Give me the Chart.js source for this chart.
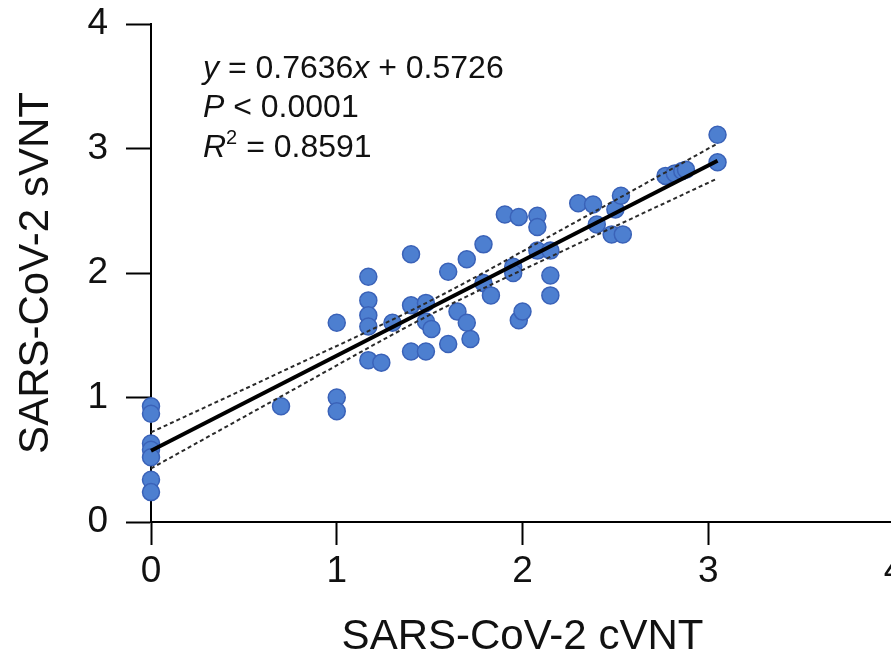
<!DOCTYPE html>
<html>
<head>
<meta charset="utf-8">
<script src="https://cdn.jsdelivr.net/npm/chart.js@4.4.0/dist/chart.umd.min.js"></script>
<style>
html,body{margin:0;padding:0;overflow:hidden;background:#fff;width:891px;height:663px;}
#wrap{position:relative;width:920px;height:663px;}
</style>
</head>
<body>
<div id="wrap"><canvas id="c"></canvas></div>
<script>
// ---- data ----
const cvnt = [0,0,0,0,0,0,0,
  0.70,
  1.00,1.00,1.00,
  1.17,1.17,1.17,1.17,1.17,
  1.24,1.30,
  1.40,1.40,1.40,
  1.48,1.48,1.48,1.51,
  1.60,1.60,1.65,1.70,1.70,1.72,
  1.79,1.79,1.83,1.905,
  1.95,1.95,1.98,1.98,2.00,
  2.08,2.08,2.08,
  2.15,2.15,2.15,
  2.30,2.38,2.40,2.48,2.50,2.53,2.54,
  2.77,2.82,2.86,2.88,
  3.05,3.05];
const svnt = [0.93,0.87,0.63,0.58,0.52,0.34,0.24,
  0.93,
  1.00,0.89,1.60,
  1.97,1.78,1.66,1.57,1.30,
  1.28,1.60,
  2.15,1.74,1.37,
  1.76,1.61,1.37,1.55,
  2.01,1.43,1.69,1.60,2.11,1.47,
  2.23,1.92,1.82,2.47,
  2.05,2.00,2.45,1.62,1.69,
  2.46,2.37,2.18,
  2.18,1.98,1.82,
  2.56,2.55,2.39,2.31,2.51,2.62,2.31,
  2.78,2.80,2.82,2.83,
  3.11,2.89];
const fitX = [0, 3.05];
const fitY = [0.5726, 2.901];
const bandX = [0, 0.75, 1.5, 2.25, 3.05];
const bandUpper = [0.72, 1.24, 1.773, 2.38, 3.04];
const bandLower = [0.43, 1.05, 1.663, 2.20, 2.76];
const xTicks = [0, 1, 2, 3, 4];
const yTicks = [0, 1, 2, 3, 4];
const xTitle = 'SARS-CoV-2 cVNT';
const yTitle = 'SARS-CoV-2 sVNT';
const slopeText = '0.7636';
const interceptText = '0.5726';
const pText = '0.0001';
const r2Text = '0.8591';

const FONT = "'Liberation Sans', Arial, Helvetica, sans-serif";
const toXY = (xs, ys) => xs.map((x, i) => ({x: x, y: ys[i]}));

const annot = {
  id: 'annot',
  afterDatasetsDraw(chart) {
    const ctx = chart.ctx;
    const xs = chart.scales.x, ys = chart.scales.y;
    const x0 = xs.getPixelForValue(0.28);
    const y1 = ys.getPixelForValue(3.57);
    const lh = 39.5;
    const fs = 32;
    const nf = fs + 'px ' + FONT;
    const itf = 'italic ' + fs + 'px ' + FONT;
    ctx.save();
    ctx.fillStyle = '#111';
    ctx.textBaseline = 'alphabetic';
    ctx.textAlign = 'left';
    function run(parts, y) {
      let x = x0;
      parts.forEach(p => {
        ctx.font = p[1];
        const dy = p[2] || 0;
        ctx.fillText(p[0], x, y + dy);
        x += ctx.measureText(p[0]).width;
      });
    }
    run([['y', itf], [' = ' + slopeText, nf], ['x', itf], [' + ' + interceptText, nf]], y1);
    run([['P', itf], [' < ' + pText, nf]], y1 + lh);
    run([['R', itf], ['2', (fs*0.62).toFixed(0) + 'px ' + FONT, -13], [' = ' + r2Text, nf]], y1 + 2*lh);
    ctx.restore();
  }
};

new Chart(document.getElementById('c'), {
  data: {
    datasets: [
      {type: 'line', data: toXY(fitX, fitY), borderColor: '#000', borderWidth: 4,
        pointRadius: 0, fill: false, order: 0, clip: false},
      {type: 'line', data: toXY(bandX, bandUpper), borderColor: '#2a2a2a', borderWidth: 2,
        borderDash: [4, 3], pointRadius: 0, fill: false, cubicInterpolationMode: 'monotone', order: 0},
      {type: 'line', data: toXY(bandX, bandLower), borderColor: '#2a2a2a', borderWidth: 2,
        borderDash: [4, 3], pointRadius: 0, fill: false, cubicInterpolationMode: 'monotone', order: 0},
      {type: 'scatter', data: toXY(cvnt, svnt), backgroundColor: '#4d7fd0',
        borderColor: '#3a62b8', borderWidth: 1.5, pointRadius: 8.5, order: 1, clip: false}
    ]
  },
  options: {
    responsive: true,
    maintainAspectRatio: false,
    animation: false,
    devicePixelRatio: 1,
    layout: {padding: {left: 0, top: 24, right: 26, bottom: 0}},
    plugins: {legend: {display: false}, tooltip: {enabled: false}},
    scales: {
      x: {
        type: 'linear', min: 0, max: 4,
        afterBuildTicks: s => { s.ticks = xTicks.map(v => ({value: v})); },
        afterFit: s => { s.height = 141; },
        border: {display: true, color: '#000', width: 2},
        grid: {drawOnChartArea: false, drawTicks: true, tickLength: 23, tickWidth: 2, tickColor: '#000'},
        ticks: {color: '#111', padding: 5, font: {family: FONT, size: 37}, maxRotation: 0, autoSkip: false},
        title: {display: true, text: xTitle, color: '#111', font: {family: FONT, size: 42}, padding: {top: 0, bottom: 0}}
      },
      y: {
        type: 'linear', min: 0, max: 4,
        afterBuildTicks: s => { s.ticks = yTicks.map(v => ({value: v})); },
        afterFit: s => { s.width = 151; s.paddingTop = 0; s.paddingBottom = 0; },
        border: {display: true, color: '#000', width: 2},
        grid: {drawOnChartArea: false, drawTicks: true, tickLength: 25, tickWidth: 2, tickColor: '#000'},
        ticks: {color: '#111', padding: 18, font: {family: FONT, size: 37}, autoSkip: false},
        title: {display: true, text: yTitle, color: '#111', font: {family: FONT, size: 42}, padding: {top: 11, bottom: 0}}
      }
    }
  },
  plugins: [annot]
});
</script>
</body>
</html>
